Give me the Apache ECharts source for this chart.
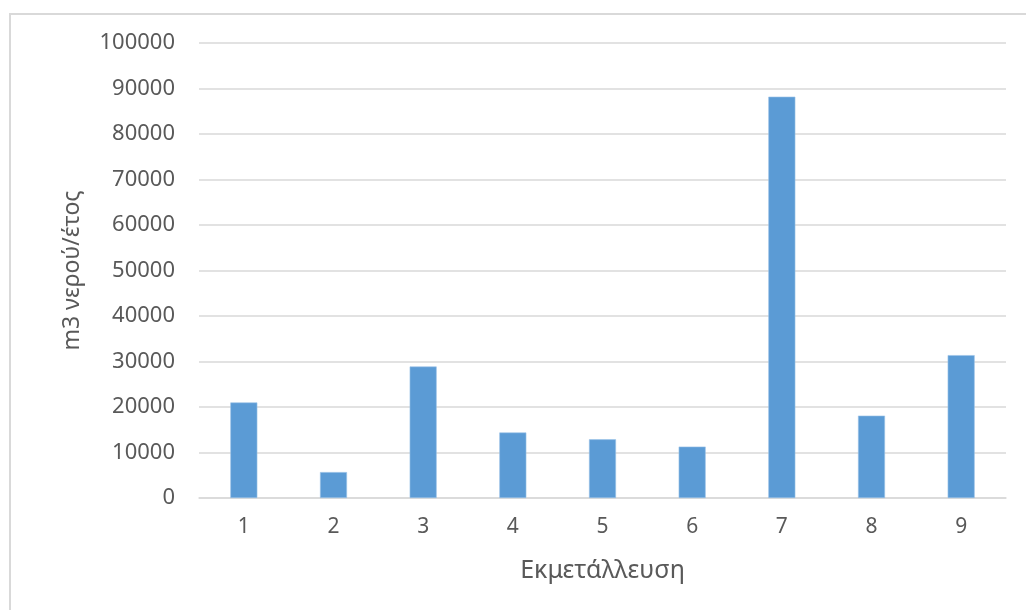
<!DOCTYPE html>
<html>
<head>
<meta charset="utf-8">
<script src="https://cdn.jsdelivr.net/npm/echarts@6/dist/echarts.min.js"></script>
<style>
  html, body { margin: 0; padding: 0; background: #fff; }
  #chart { width: 1026px; height: 610px; }
</style>
</head>
<body>
<div id="chart"></div>
<script>
// Annual water use per farm
const farms = ['1', '2', '3', '4', '5', '6', '7', '8', '9'];
const waterUse = [21000, 5700, 28900, 14400, 12900, 11300, 88200, 18100, 31400];
const yTicks = [0, 10000, 20000, 30000, 40000, 50000, 60000, 70000, 80000, 90000, 100000];

const xTitle = 'Εκμετάλλευση';
const yTitle = 'm3 νερού/έτος';

const textColor = '#595959';
const fontFamily = '"Noto Sans", "Open Sans", sans-serif';

const chart = echarts.init(document.getElementById('chart'));
chart.setOption({
  animation: false,
  backgroundColor: '#fff',
  textStyle: { fontFamily: fontFamily },
  graphic: [{
    type: 'rect',
    silent: true,
    shape: { x: 10, y: 14, width: 1200, height: 800 },
    style: { fill: 'none', stroke: '#d9d9d9', lineWidth: 2 }
  }],
  grid: { left: 199, right: 20, top: 43, bottom: 112, containLabel: false },
  xAxis: {
    type: 'category',
    data: farms,
    name: xTitle,
    nameLocation: 'middle',
    nameGap: 60,
    nameTextStyle: { color: textColor, fontSize: 25, fontFamily: fontFamily },
    axisLine: { show: true, lineStyle: { color: '#d9d9d9', width: 1.5 } },
    axisTick: { show: false },
    axisLabel: { color: textColor, fontSize: 21, margin: 19, fontFamily: fontFamily }
  },
  yAxis: {
    type: 'value',
    min: yTicks[0],
    max: yTicks[yTicks.length - 1],
    interval: yTicks[1] - yTicks[0],
    name: yTitle,
    nameLocation: 'middle',
    nameGap: 115,
    nameRotate: 90,
    nameTextStyle: { color: textColor, fontSize: 23, fontFamily: fontFamily },
    axisLine: { show: false },
    axisTick: { show: false },
    axisLabel: {
      color: textColor, fontSize: 22, margin: 24, fontFamily: fontFamily,
      formatter: (v) => String(v)
    },
    splitLine: { show: true, lineStyle: { color: '#d9d9d9', width: 1.5 } }
  },
  series: [{
    type: 'bar',
    data: waterUse,
    barWidth: 27,
    itemStyle: { color: '#5b9bd5', borderColor: '#9cc2e8', borderWidth: 0.6 }
  }]
});
</script>
</body>
</html>
